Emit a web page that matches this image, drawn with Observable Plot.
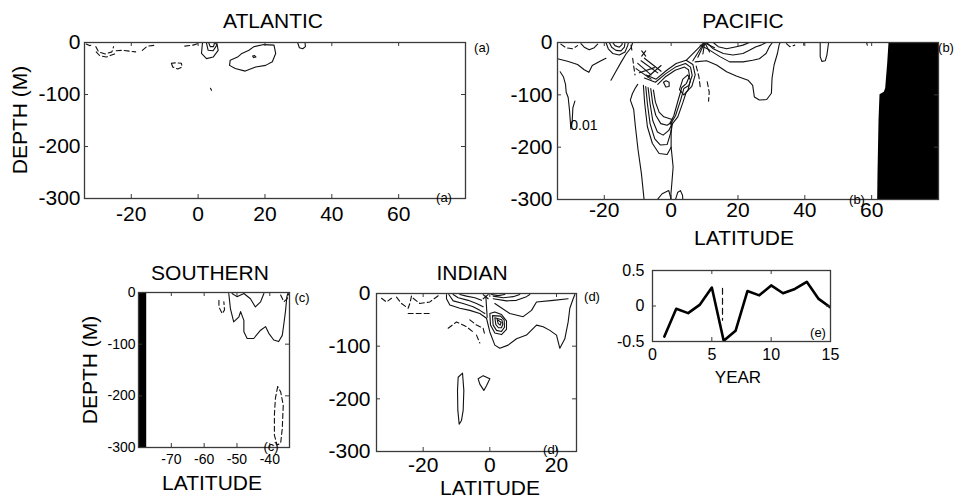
<!DOCTYPE html>
<html><head><meta charset="utf-8">
<script src="https://cdn.jsdelivr.net/npm/d3@7"></script>
<script src="https://cdn.jsdelivr.net/npm/@observablehq/plot@0.6"></script>
<style>
body{margin:0;background:#fff;}
#page{position:relative;width:966px;height:498px;overflow:hidden;font-family:"Liberation Sans",Arial,Helvetica,sans-serif;color:#000;}
.pw{position:absolute;}
.lbl{position:absolute;white-space:nowrap;transform:translate(-50%,-50%);line-height:1;}
.rot{transform:translate(-50%,-50%) rotate(-90deg);}
</style></head><body><div id="page"></div>
<script>
// ---------- DATA ----------
const depthTicks = [0, -100, -200, -300];
const atlPacLatTicks = [-20, 0, 20, 40, 60];
const southernLatTicks = [-70, -60, -50, -40];
const indianLatTicks = [-20, 0, 20];
const yearTicks = [0, 5, 10, 15];
const indexTicks = [-0.5, 0, 0.5];

// Atlantic contours [lat, depth]
const atlanticSolid = [
  [[9.4,-44],[9.6,-34],[11.8,-28],[13.1,-21],[15.2,-15],[16.7,-8],[19.7,-4],[22.7,-5],[23.2,-21],[22.2,-37],[20.2,-44],[17.2,-47],[14.1,-55],[11.1,-50],[9.4,-44]],
  [[16.3,-26],[16.9,-25],[17.3,-28],[16.6,-29],[16.3,-26]],
  [[1.3,-1],[1,-21],[2.5,-31],[4.5,-28],[6,-15],[5.6,-1]],
  [[2.5,-1],[3,-15],[4.5,-16],[5.6,-5],[5.2,-1]],
  [[3.2,-1],[3.6,-8],[4.6,-8],[4.9,-1]],
  [[29.8,-1],[30.3,-10],[31.3,-12],[32.1,-8],[32,-1]],
  [[3.7,-88],[4,-92]]
];
const atlanticDashed = [
  [[-33.5,-3],[-32.5,-6],[-31.5,-4]],
  [[-30.6,-8],[-29.8,-18],[-27.8,-22],[-25.8,-18],[-25.3,-8]],
  [[-30.5,-18],[-29.5,-25],[-27.5,-28],[-25,-22]],
  [[-24.5,-16],[-22.7,-15],[-18.7,-18]],
  [[-16.7,-15],[-15.2,-7],[-12.6,-5]],
  [[-4,-7],[-1.5,-5],[0.5,-1]],
  [[-8,-40],[-7.6,-47],[-6.1,-51],[-4.8,-47],[-5,-40],[-6.5,-39],[-8,-40]]
];

// Pacific contours
const pacificSolid = [
  [[-33.2,-56],[-32.2,-66],[-31.6,-80],[-31.4,-95],[-30.8,-105],[-30.4,-130],[-30,-165],[-29.6,-150],[-29.4,-125],[-28.8,-112]],
  [[-34,-31],[-31,-36],[-28,-42],[-26,-52],[-24.6,-57],[-23.6,-44],[-21,-35],[-19.5,-30]],
  [[-11.5,0],[-12,-10],[-13.5,-22],[-15,-38],[-16.5,-55],[-18,-72]],
  [[-19.5,0],[-18.8,-12],[-17.5,-21],[-15.5,-24],[-13.8,-18],[-13,-6],[-12.8,0]],
  [[-18.5,0],[-17.8,-9],[-16.5,-15],[-15,-16],[-14,-9],[-13.8,0]],
  [[-17.5,0],[-16.8,-6],[-15.5,-9],[-14.7,-4],[-14.6,0]],
  [[-27,-2],[-26,-9],[-24.5,-14],[-23,-10],[-22,-3]],
  // nested U-shapes under the equator
  [[-8.3,-82],[-7.9,-117],[-7.1,-161],[-5.6,-193],[-3.6,-212],[-1.2,-214],[0,-200],[0,-174],[0.3,-155]],
  [[-7.6,-84],[-7.1,-117],[-6.3,-155],[-4.9,-184],[-3.2,-196],[-1.2,-195],[-0.2,-174],[0.3,-155]],
  [[-6.9,-86],[-6.3,-117],[-5.5,-149],[-4.1,-171],[-2.4,-177],[-0.7,-168],[0.3,-155]],
  [[-6.1,-88],[-5.5,-117],[-4.6,-139],[-3.1,-155],[-1.2,-158],[0.3,-152]],
  [[-5.3,-91],[-4.7,-114],[-3.6,-133],[-2.2,-142],[0.3,-147]],
  // arch
  [[-8,-68],[-4.7,-76],[-1.7,-60],[1.3,-47],[4.3,-40],[5.8,-47],[6.3,-63],[5.3,-82],[3.8,-88],[2.8,-111],[1.3,-140],[-0.2,-156]],
  [[-7.5,-62],[-4.5,-70],[-1.5,-54],[1.5,-40],[4.5,-34],[6.5,-42],[7.2,-62],[6.2,-84],[4.5,-95],[3.5,-115],[2,-142],[0.3,-156]],
  [[-4,-80],[-1.8,-66],[1.2,-53],[4,-47],[5.2,-52],[5.5,-64],[4.6,-78],[3.2,-86],[2.2,-108],[0.8,-140],[-0.4,-155]],
  [[-2.3,-76],[-1.6,-85],[-0.6,-84],[-0.6,-76],[-1.5,-73],[-2.3,-76]],
  [[2.5,-90],[3.5,-70],[5,-62],[5.8,-72],[5,-92],[3.8,-100],[2.5,-90]],
  // hairy lines
  [[-10,-40],[-6,-62]],[[-9,-35],[-4,-58]],[[-10.5,-50],[-6,-70]],[[-8,-30],[-3,-55]],[[-9.5,-58],[-5,-48]],[[-7,-66],[-3,-44]],
  [[-8.8,-16],[-7.6,-26]],[[-7.6,-16],[-8.8,-26]],
  // fan near 10N
  [[9.5,-2],[4.5,-34]],[[9.7,-2],[6.5,-35]],[[9.9,-2],[8,-28]],[[10,-2],[9.5,-22]],[[10.2,-2],[11.5,-18]],[[10.4,-2],[13,-10]],
  // long lines to the bottom
  [[-10,-80],[-10.8,-88],[-11.6,-98],[-12.2,-110],[-11.2,-128],[-10.7,-160],[-9.9,-205],[-8.9,-250],[-8.1,-300]],
  [[0,-200],[0.6,-238],[0.2,-270],[-0.2,-300]],
  [[-4.1,-300],[-2.7,-289],[-0.7,-283],[0,-300]],
  [[1.3,-300],[2,-286],[2.8,-283],[3.4,-292],[3.5,-300]],
  // northern wavy contours
  [[7.2,-37],[10.6,-35],[13.6,-43],[16.6,-56],[19.5,-64],[23,-72],[24.4,-82],[24.9,-104],[26.4,-110],[28.6,-109],[30,-97],[30.2,-68],[30.8,-43],[31.8,-21],[32.3,-5],[32.6,0]],
  [[8.7,-5],[11.6,-15],[14.6,-27],[17.5,-37],[21.5,-37],[24.4,-34],[26.4,-31],[28.4,-21],[29.4,-8],[30.3,0]],
  [[10.6,0],[12.6,-12],[15.6,-21],[18.5,-24],[21.5,-21],[23.4,-15],[25.4,-8],[26.9,-5],[28.4,0]],
  [[12.6,0],[14.1,-8],[16.6,-12],[19.5,-8],[21.5,-5],[23.4,0]],
  [[44.6,-1],[44.6,-27],[45.1,-36],[46.1,-35],[46.6,-24],[47.1,-1]],
  [[39.7,-1],[39.7,-5]],[[58.5,-1],[58.7,-5]]
];
const pacificDashed = [
  [[-33,-3],[-31.5,-10],[-29.5,-12],[-28,-6]],
  [[-11.5,-30],[-11.2,-45],[-10.8,-62]],
  [[-12,-5],[-11.6,-20]],
  [[7.5,-45],[8.3,-65],[8.8,-90]],
  [[10.8,-75],[11.4,-95],[11.2,-112]],
  [[34.5,-2],[35.5,-8],[37,-5]]
];
const pacificLandY = [0, -40, -88, -95, -100, -150, -250, -300];
const pacificLandLat = [65.2, 64.8, 64.2, 63.8, 62.5, 62.2, 61.9, 61.8];
const pacificLabels = [{lat: -30.2, depth: -158, text: "0.01"}];

// Southern contours
const southernSolid = [
  [[-52.5,-2],[-52,-31],[-51,-57],[-49.4,-47],[-48.9,-37],[-47.9,-54],[-47.9,-76],[-46.9,-89],[-44.9,-89],[-42.8,-73],[-41.3,-66],[-40.3,-79],[-38.8,-92],[-37.3,-95],[-36.2,-83],[-35.7,-60],[-35.2,-35],[-34.8,-8],[-34.5,-2]],
  [[-51.5,-2],[-50,-8],[-47.9,-2],[-45.9,-12],[-44.4,-28],[-42.8,-18],[-41.8,-2]]
];
const southernDashed = [
  [[-36.7,-5],[-35.7,-18],[-34.7,-12],[-34.2,-2]],
  [[-55.5,-15],[-55.5,-28],[-54.5,-41],[-53.8,-34],[-54,-18]],
  [[-37.6,-182],[-38.3,-205],[-38.6,-237],[-38.6,-276],[-37.8,-295],[-36.7,-292],[-36.2,-263],[-35.9,-218],[-36.7,-192],[-37.6,-182]]
];
const southernLand = [{lat1: -80, lat2: -77.5}];

// Indian contours
const indianSolid = [
  [[-1,-47],[0,-73],[1.5,-98],[3,-104],[5.5,-98],[8,-86],[11,-79],[14,-60],[16,-63],[18,-70],[20,-79],[21,-104],[22.5,-86],[23.5,-54],[24,-28],[25,-10],[25.5,-2]],
  [[1.5,-19],[6,-38],[10,-44],[12.5,-32],[14,-16],[19,-13],[23.5,-10]],
  [[0,-38],[0.2,-60],[1.5,-75],[3.5,-78],[5,-68],[5,-52],[3.5,-40],[1.5,-35],[0,-38]],
  [[0.8,-42],[1,-60],[2,-70],[3.5,-72],[4.4,-64],[4.3,-50],[3.2,-43],[0.8,-42]],
  [[1.5,-46],[1.8,-59],[2.6,-65],[3.5,-65],[3.9,-58],[3.6,-50],[1.5,-46]],
  [[2.2,-49],[2.5,-57],[3.1,-60],[3.4,-55],[2.2,-49]],
  [[-13,-2],[-13,-10],[-12,-22],[-9,-28],[-6,-32],[-3,-38],[-1,-47]],
  [[-12.3,-2],[-11,-14],[-8,-19],[-5,-25],[-3,-32],[-1.5,-38]],
  [[-11,-2],[-9.5,-8],[-6.5,-13],[-4,-19],[-2,-25]],
  [[-9,-2],[-7,-5],[-4.5,-8],[-2.5,-13]],
  [[1,-10],[5,-14],[8,-13],[11,-6],[12,-2]],
  [[1,-5],[4,-8],[7,-6],[9,-2]],
  [[0.5,-2],[2.5,-4],[4.5,-2]],
  [[-2,-2],[-0.5,-10]],[[-0.5,-2],[-2,-10]],
  [[-1.2,-5],[-0.8,-45]],
  [[-9.5,-159],[-8.2,-151],[-7.8,-184],[-8,-222],[-8.5,-241],[-9.2,-248],[-9.6,-222],[-9.7,-184],[-9.5,-159]],
  [[-3.5,-162],[-2,-156],[0,-162],[-1,-175],[-1.8,-184],[-3,-172],[-3.5,-162]]
];
const indianDashed = [
  [[-32.5,-9],[-31,-16],[-29.5,-9]],
  [[-28,-7],[-26.5,-19],[-24.5,-28],[-24,-19],[-23.5,-5]],
  [[-24.5,-38],[-21,-38],[-17.5,-38]],
  [[-23,-9],[-21,-19],[-18,-16],[-15,-2]],
  [[-12.5,-66],[-10,-54],[-7,-63],[-5,-73]],
  [[-6,-50],[-4,-60],[-2,-66],[-1.5,-79]],
  [[-4,-79],[-3,-94]]
];

// Time series (panel e)
const years = [1,2,3,4,5,6,7,8,9,10,11,12,13,14,15];
const indexValues = [-0.43,-0.04,-0.10,0.02,0.26,-0.49,-0.35,0.21,0.15,0.29,0.18,0.24,0.34,0.10,-0.02];
const markerYear = [5.9, 5.9];
const markerValue = [0.25, -0.2];

// ---------- HELPERS ----------
const FONT = '"Liberation Sans", Arial, Helvetica, sans-serif';
const rows = lines => lines.flatMap((pts, i) => pts.map(p => ({lat: p[0], depth: p[1], id: i})));
const fmt = d => String(d);
const TICK = 4;

function frameAxes(xTicks, yTicks, fx, fy, padX, padY, fw, fh) {
  return [
    Plot.axisX({anchor: "bottom", ticks: xTicks, tickSize: 0, tickPadding: padX, fontSize: fx, tickFormat: fmt}),
    Plot.axisY({anchor: "left", ticks: yTicks, tickSize: 0, tickPadding: padY, fontSize: fy, tickFormat: fmt}),
    // inward tick marks on all four sides
    Plot.ruleX(xTicks, {x: d => d, insetTop: fh - TICK, stroke: "#3a3a3a"}),
    Plot.ruleX(xTicks, {x: d => d, insetBottom: fh - TICK, stroke: "#3a3a3a"}),
    Plot.ruleY(yTicks, {y: d => d, insetRight: fw - TICK, stroke: "#3a3a3a"}),
    Plot.ruleY(yTicks, {y: d => d, insetLeft: fw - TICK, stroke: "#3a3a3a"}),
    Plot.frame({stroke: "#3a3a3a", strokeWidth: 1.3})
  ];
}
function contourMarks(solid, dashed) {
  return [
    Plot.line(rows(solid), {x: "lat", y: "depth", z: "id", stroke: "#111", strokeWidth: 1.1, clip: true}),
    Plot.line(rows(dashed), {x: "lat", y: "depth", z: "id", stroke: "#111", strokeWidth: 1.1, strokeDasharray: "5,3", clip: true})
  ];
}
const page = document.getElementById("page");
function place(node, left, top) {
  const d = document.createElement("div"); d.className = "pw";
  d.style.left = left + "px"; d.style.top = top + "px";
  d.appendChild(node); page.appendChild(d);
}
function label(text, x, y, size, rot) {
  const d = document.createElement("div");
  d.className = "lbl" + (rot ? " rot" : "");
  d.textContent = text; d.style.left = x + "px"; d.style.top = y + "px"; d.style.fontSize = size + "px";
  page.appendChild(d);
}
const baseStyle = {background: "transparent", overflow: "visible", fontFamily: FONT, color: "#000"};

// ---------- PANEL A: ATLANTIC ----------
place(Plot.plot({
  width: 475, height: 248, marginLeft: 84, marginTop: 42, marginRight: 10, marginBottom: 50,
  style: baseStyle,
  x: {domain: [-34, 80], label: null}, y: {domain: [-300, 0], label: null},
  marks: [...contourMarks(atlanticSolid, atlanticDashed), ...frameAxes(atlPacLatTicks, depthTicks, 21, 21, 8, 4, 381, 156)]
}), 0, 0);

// ---------- PANEL B: PACIFIC ----------
place(Plot.plot({
  width: 476, height: 249, marginLeft: 77, marginTop: 42, marginRight: 18, marginBottom: 50,
  style: baseStyle,
  x: {domain: [-34, 80], label: null}, y: {domain: [-300, 0], label: null},
  marks: [
    Plot.areaX(pacificLandY.map((d, i) => ({depth: d, lat: pacificLandLat[i]})), {y: "depth", x1: "lat", x2: () => 80, fill: "#000"}),
    ...contourMarks(pacificSolid, pacificDashed),
    Plot.text(pacificLabels, {x: "lat", y: "depth", text: "text", fontSize: 14, textAnchor: "start"}),
    ...frameAxes(atlPacLatTicks, depthTicks, 21, 21, 3, 5, 381, 157)
  ]
}), 480, 0);

// ---------- PANEL C: SOUTHERN ----------
place(Plot.plot({
  width: 201, height: 237, marginLeft: 38, marginTop: 42, marginRight: 12, marginBottom: 40,
  style: baseStyle,
  x: {domain: [-80, -34], label: null}, y: {domain: [-300, 0], label: null},
  marks: [
    Plot.rect(southernLand, {x1: "lat1", x2: "lat2", y1: () => -300, y2: () => 0, fill: "#000"}),
    ...contourMarks(southernSolid, southernDashed),
    ...frameAxes(southernLatTicks, depthTicks, 14, 14, 7, 3, 151, 155)
  ]
}), 100, 250);

// ---------- PANEL D: INDIAN ----------
place(Plot.plot({
  width: 266, height: 241, marginLeft: 56, marginTop: 43, marginRight: 10, marginBottom: 40,
  style: baseStyle,
  x: {domain: [-34, 26], label: null}, y: {domain: [-300, 0], label: null},
  marks: [...contourMarks(indianSolid, indianDashed), ...frameAxes(indianLatTicks, depthTicks, 21, 21, 6, 6, 200, 158)]
}), 320, 250);

// ---------- PANEL E: TIME SERIES ----------
place(Plot.plot({
  width: 250, height: 121, marginLeft: 52, marginTop: 20, marginRight: 20, marginBottom: 30,
  style: baseStyle,
  x: {domain: [0, 15], label: null}, y: {domain: [-0.5, 0.5], label: null},
  marks: [
    Plot.line(markerYear.map((x, i) => ({year: x, v: markerValue[i]})), {x: "year", y: "v", stroke: "#111", strokeWidth: 1.2, strokeDasharray: "6,4"}),
    Plot.line(years.map((x, i) => ({year: x, v: indexValues[i]})), {x: "year", y: "v", stroke: "#000", strokeWidth: 2.6, clip: true}),
    ...frameAxes(yearTicks, indexTicks, 16, 16, 7, 8, 178, 71)
  ]
}), 600, 250);

// ---------- TEXT ----------
label("ATLANTIC", 273, 20, 21);
label("PACIFIC", 743, 20, 21);
label("DEPTH (M)", 19, 120, 21, true);
label("LATITUDE", 744, 237, 21);
label("SOUTHERN", 210, 272, 21);
label("INDIAN", 472, 272, 21);
label("DEPTH (M)", 89, 370, 21, true);
label("LATITUDE", 212, 482, 21);
label("LATITUDE", 490, 487, 21);
label("YEAR", 738, 377, 17);
label("(a)", 482, 47, 13);
label("(a)", 444, 197, 13);
label("(b)", 946, 47, 13);
label("(b)", 857, 199, 13);
label("(c)", 302, 297, 13);
label("(c)", 271, 446, 13);
label("(d)", 592, 296, 13);
label("(d)", 551, 449, 13);
label("(e)", 818, 332, 13);
</script></body></html>
